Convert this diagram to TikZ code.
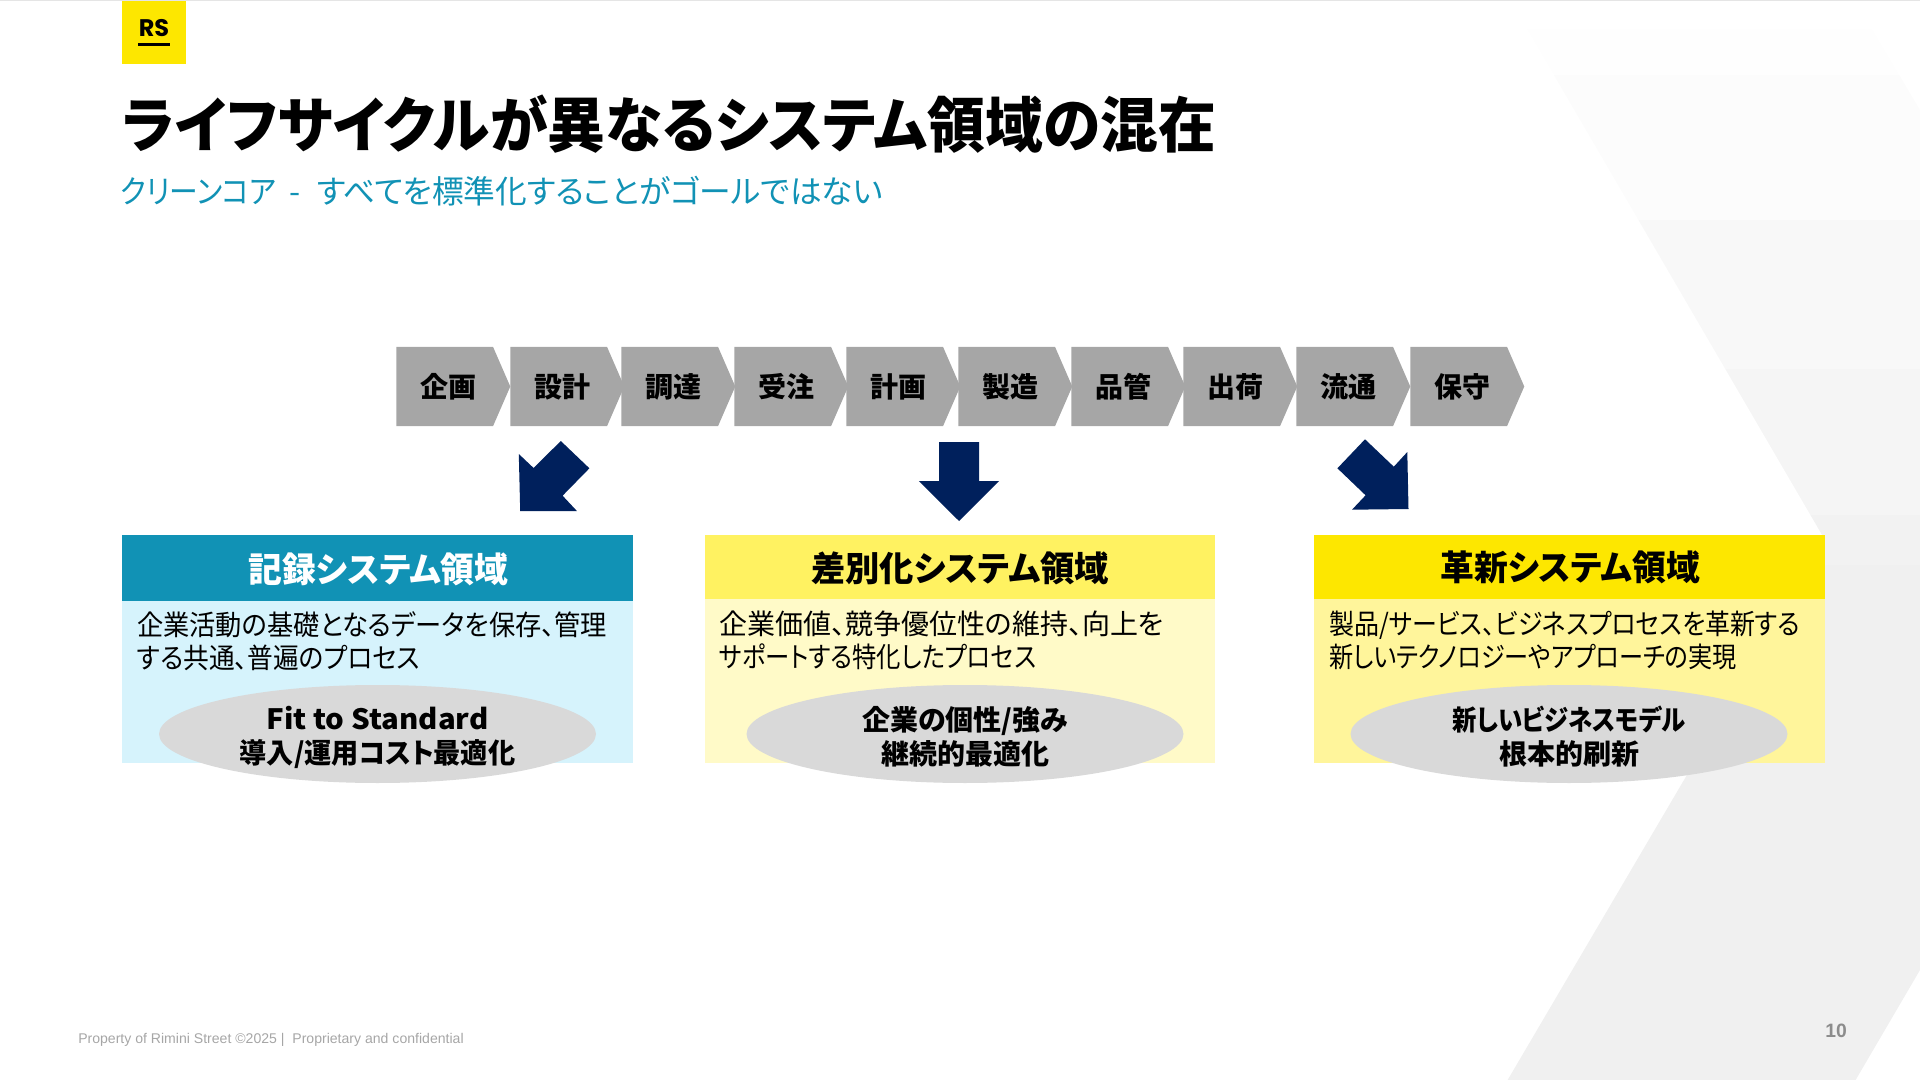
\documentclass[tikz,border=0pt]{standalone}
\usepackage{fontspec}
\usetikzlibrary{shapes.geometric,shapes.symbols}
\setmainfont[RawFeature=+palt]{Noto Sans CJK JP}
\newfontfamily\footfont{Liberation Sans}
\newfontfamily\logofont{Poppins}
\newcommand{\squeeze}[2]{{\addfontfeature{FakeStretch=#1}#2}}
\definecolor{rsyellow}{HTML}{FDE700}
\definecolor{rsteal}{HTML}{1192B5}
\definecolor{rsnavy}{HTML}{00205C}
\definecolor{rsgray}{HTML}{A6A6A6}
\tikzset{
  stepbox/.style={signal,signal to=east,signal from=nowhere,signal pointer angle=133,
    fill=rsgray,inner sep=0pt,minimum width=85.5pt,minimum height=59.25pt,anchor=west,
    execute at begin node=\kern6pt,
    font=\fontsize{21}{24}\selectfont\bfseries},
  headbox/.style={anchor=north west,inner sep=0pt,minimum width=383pt,minimum height=48pt},
  bodybox/.style={anchor=north west,inner sep=0pt,minimum width=383pt,minimum height=122.5pt},
  headtext/.style={inner sep=0pt,font=\fontsize{26}{30}\selectfont\bfseries},
  bodytext/.style={anchor=west,align=left,inner sep=0pt,font=\fontsize{21}{25}\selectfont},
  goalbox/.style={ellipse,fill=black!15,inner sep=0pt,minimum width=327.75pt,minimum height=73.5pt},
  goaltext/.style={align=center,inner sep=0pt,font=\fontsize{21}{25.5}\selectfont\bfseries},
  blockarrow/.style={fill=rsnavy}
}
\begin{document}
\begin{tikzpicture}[x=0.75pt,y=-0.75pt]
\useasboundingbox (0,0) rectangle (1920,1080);

% background
\begin{scope}
\clip (1527,29) -- (1825,540) -- (1507.6,1080) -- (1855.6,1080) -- (1920,970) -- (1920,110) -- (1872,29) -- cycle;
\fill[black!0.4] (1500,29) rectangle (1920,75);
\fill[black!1.2] (1500,75) rectangle (1920,220);
\fill[black!2.7] (1500,220) rectangle (1920,369);
\fill[black!4] (1500,369) rectangle (1920,515);
\fill[black!5] (1500,515) rectangle (1920,565);
\fill[black!6] (1500,565) rectangle (1920,1080);
\end{scope}
\fill[black!10] (0,0) rectangle (1920,1.5);

% header
\node[fill=rsyellow,anchor=north west,minimum width=48pt,minimum height=47pt,inner sep=0pt] (logo) at (122,1) {};
\node[inner sep=0pt,font=\logofont\fontsize{18}{18}\selectfont\bfseries] (logotext) at (154,28) {RS};
\fill (138,43) rectangle (170,46.5);
\node[anchor=west,inner sep=0pt,font=\fontsize{45}{50}\selectfont\bfseries] (title) at (122,124) {\squeeze{0.963}{ライフサイクルが異なるシステム領域の混在}};
\node[anchor=west,inner sep=0pt,text=rsteal,font=\fontsize{24}{28}\selectfont] (subtitle) at (120,191) {\squeeze{0.9}{クリーンコア}\hspace{10pt}-\hspace{12pt}\squeeze{0.99}{すべてを標準化することがゴールではない}};

% value chain
\node[stepbox] (kikaku) at (396,386.5) {企画};
\node[stepbox] (sekkei) at (510,386.5) {設計};
\node[stepbox] (chotatsu) at (621,386.5) {調達};
\node[stepbox] (juchu) at (734,386.5) {受注};
\node[stepbox] (keikaku) at (846,386.5) {計画};
\node[stepbox] (seizo) at (958,386.5) {製造};
\node[stepbox] (hinkan) at (1071,386.5) {品管};
\node[stepbox] (shukka) at (1183,386.5) {出荷};
\node[stepbox] (ryutsu) at (1296,386.5) {流通};
\node[stepbox] (hoshu) at (1410,386.5) {保守};

% arrows
\fill[blockarrow] (560.8,441) -- (589.4,468.3) -- (562.6,495.7) -- (576.9,511) -- (520.2,511) -- (518.8,454) -- (533.6,468) -- cycle;
\fill[blockarrow] (939,442) -- (979,442) -- (979,481) -- (999.2,481) -- (959,521) -- (918.8,481) -- (939,481) -- cycle;
\fill[blockarrow] (1365,439.3) -- (1393.8,466.7) -- (1407.3,452) -- (1408.5,509) -- (1352,509.7) -- (1365.6,495.3) -- (1337.4,468.3) -- cycle;

% panel 1
\node[bodybox,fill={rgb,255:red,214;green,243;blue,252},minimum height=122pt] (recordbody) at (122,600) {};
\node[headbox,fill=rsteal,minimum height=49pt,minimum width=383.25pt] (recordhead) at (122,535) {};
\node[text=white,headtext] (recordtitle) at (378.5,569) {\squeeze{0.975}{記録システム領域}};
\node[bodytext] (recordtext) at (137,641.5) {\squeeze{0.937}{企業活動の基礎となるデータを保存、管理}\\\squeeze{0.918}{する共通、普遍のプロセス}};
\node[goalbox] (recordgoal) at (377.5,734) {};
\node[goaltext] (recordgoaltext) at (377.5,737) {\squeeze{1.05}{Fit to Standard}\\\squeeze{0.97}{導入/運用コスト最適化}};

% panel 2
\node[bodybox,fill={rgb,255:red,255;green,250;blue,200},minimum width=382.5pt] (diffbody) at (705,599) {};
\node[headbox,fill={rgb,255:red,255;green,242;blue,97},minimum width=382.5pt] (diffhead) at (705,535) {};
\node[headtext] (difftitle) at (960,568) {\squeeze{0.99}{差別化システム領域}};
\node[bodytext] (difftext) at (719,640.5) {企業価値、競争優位性の維持、向上を\\\squeeze{0.87}{サポートする特化したプロセス}};
\node[goalbox] (diffgoal) at (965,734) {};
\node[goaltext] (diffgoaltext) at (965,736.5) {企業の個性/強み\\継続的最適化};

% panel 3
\node[bodybox,fill={rgb,255:red,255;green,245;blue,155},minimum height=123.75pt] (newbody) at (1314,598) {};
\node[headbox,fill=rsyellow] (newhead) at (1314,535) {};
\node[headtext] (newtitle) at (1570,567) {\squeeze{0.975}{革新システム領域}};
\node[bodytext] (newtext) at (1329,640.5) {\squeeze{0.892}{製品/サービス、ビジネスプロセスを革新する}\\\squeeze{0.862}{新しいテクノロジーやアプローチの実現}};
\node[goalbox] (newgoal) at (1569,734) {};
\node[goaltext] (newgoaltext) at (1569,736.5) {\squeeze{0.87}{新しいビジネスモデル}\\根本的刷新};

% footer
\node[anchor=west,inner sep=0pt,text=rsgray,font=\footfont\fontsize{10.55}{12}\selectfont] (footer) at (78,1040) {Property of Rimini Street ©2025 |\ \ Proprietary and confidential};
\node[inner sep=0pt,text=black!45,font=\footfont\fontsize{14.5}{16}\selectfont\bfseries] (pageno) at (1836,1031) {10};

\end{tikzpicture}
\end{document}
